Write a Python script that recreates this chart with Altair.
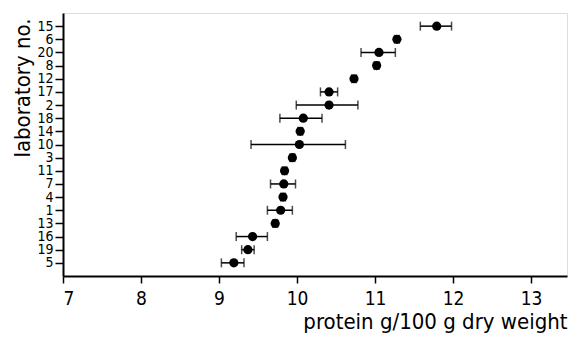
import altair as alt
import pandas as pd

labs = ["15", "6", "20", "8", "12", "17", "2", "18", "14", "10",
        "3", "11", "7", "4", "1", "13", "16", "19", "5"]
means = [11.79, 11.28, 11.05, 11.02, 10.73, 10.41, 10.41, 10.08, 10.04, 10.03,
         9.94, 9.84, 9.83, 9.82, 9.79, 9.72, 9.43, 9.37, 9.19]
lows = [11.58, 11.25, 10.82, 10.99, 10.70, 10.30, 9.99, 9.78, 10.01, 9.41,
        9.91, 9.81, 9.66, 9.79, 9.62, 9.69, 9.22, 9.29, 9.03]
highs = [11.98, 11.31, 11.26, 11.05, 10.76, 10.52, 10.78, 10.32, 10.07, 10.62,
         9.97, 9.87, 9.98, 9.85, 9.94, 9.75, 9.62, 9.45, 9.32]
x_ticks = [7, 8, 9, 10, 11, 12, 13]

df = pd.DataFrame({"lab": labs, "mean": means, "lo": lows, "hi": highs})

FONT = "DejaVu Sans Condensed, Liberation Sans Narrow, DejaVu Sans, sans-serif"

xscale = alt.Scale(domain=[7, 13.46], nice=False, zero=False)
yenc = alt.Y("lab:O", sort=labs, scale=alt.Scale(type="point", padding=1),
             axis=alt.Axis(title="laboratory no.",
                           titleX=-41, titleY=5, titleAngle=270,
                           titleAlign="right", titleBaseline="middle",
                           titleFontSize=22, titleFont=FONT, titleFontWeight="normal",
                           titleColor="black",
                           labelFont=FONT, labelFontSize=14, labelColor="black",
                           labelPadding=2, tickSize=8, tickColor="black", tickWidth=1.5,
                           domainColor="black", domainWidth=2, grid=False,
                           labelOverlap=False))

xaxis = alt.Axis(values=x_ticks, format="d", title="protein g/100 g dry weight",
                 titleAnchor="end",
                 titleFontSize=22, titleFont=FONT, titleFontWeight="normal",
                 titleColor="black", titlePadding=3,
                 labelFont=FONT, labelFontSize=19, labelColor="black", labelPadding=6,
                 tickSize=7, tickColor="black", tickWidth=1.5,
                 domainColor="black", domainWidth=2, grid=False)

base = alt.Chart(df)

rules = base.mark_rule(color="black", strokeWidth=1.5).encode(
    x=alt.X("lo:Q", scale=xscale, axis=xaxis),
    x2="hi:Q",
    y=yenc,
)
cap_lo = base.mark_tick(color="black", orient="vertical", size=9, thickness=1.5).encode(
    x=alt.X("lo:Q", scale=xscale), y=alt.Y("lab:O", sort=labs))
cap_hi = base.mark_tick(color="black", orient="vertical", size=9, thickness=1.5).encode(
    x=alt.X("hi:Q", scale=xscale), y=alt.Y("lab:O", sort=labs))
points = base.mark_circle(color="black", opacity=1, size=85).encode(
    x=alt.X("mean:Q", scale=xscale), y=alt.Y("lab:O", sort=labs))

chart = (rules + cap_lo + cap_hi + points).properties(
    width=504, height=263,
    autosize=alt.AutoSizeParams(type="none"),
    padding={"left": 55, "top": 5, "right": 1, "bottom": 62},
).configure_view(stroke="black", strokeWidth=2).configure(background="white")

chart.save("out.html", embed_options={"renderer": "svg", "actions": False})
